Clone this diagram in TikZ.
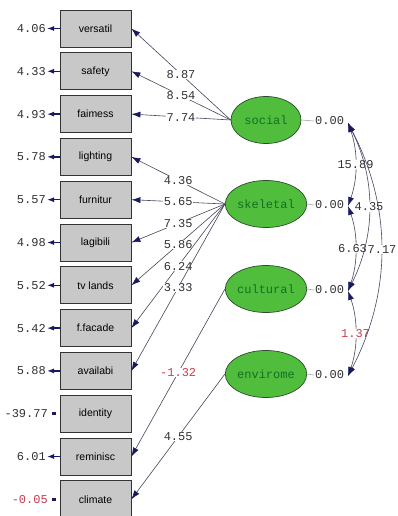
\documentclass[tikz,border=0pt]{standalone}
\usepackage{fontspec}
\setmainfont{Liberation Sans}
\newfontfamily\monof{Liberation Mono}
\usetikzlibrary{arrows.meta,shapes.geometric,calc}
\definecolor{boxgray}{RGB}{200,200,200}
\definecolor{navyc}{RGB}{25,25,95}
\definecolor{linec}{RGB}{70,70,95}
\definecolor{numc}{RGB}{50,50,50}
\definecolor{redn}{RGB}{200,60,80}
\definecolor{ellfill}{RGB}{80,190,60}
\definecolor{elltext}{RGB}{20,110,40}
\definecolor{ellborder}{RGB}{45,75,45}
\begin{document}
\begin{tikzpicture}[x=1pt,y=-1pt,
  obs/.style={draw=black!80, fill=boxgray, minimum width=71pt, minimum height=37pt, inner sep=0pt, line width=0.8pt, font=\fontsize{10.5}{12}\selectfont},
  lat/.style={ellipse, draw=ellborder, fill=ellfill, minimum width=70pt, minimum height=47pt, inner sep=0pt, line width=0.7pt, font=\monof\fontsize{12}{13}\selectfont, text=elltext},
  num/.style={font=\monof\fontsize{12}{13}\selectfont, text=numc, inner sep=1pt},
  lab/.style={num, fill=white, inner sep=0.6pt},
  load/.style={draw=linec, line width=0.6pt, -{Latex[length=9pt,width=6pt,color=navyc]}},
  err/.style={draw=navyc, line width=1.3pt, -{Latex[length=7pt,width=5pt]}},
  stub/.style={draw=navyc, line width=2.8pt},
  varl/.style={draw=gray!70, line width=0.6pt},
  cov/.style={draw=linec, line width=0.6pt, {Latex[length=9pt,width=6pt,color=navyc]}-{Latex[length=9pt,width=6pt,color=navyc]}}
]
\clip (0,0) rectangle (398,516);
\fill[white] (0,0) rectangle (398,516);

% observed variables
\node[obs] (b1)  at (95.5,28.5)  {versatil};
\node[obs] (b2)  at (95.5,71.3)  {safety};
\node[obs] (b3)  at (95.5,114.1) {faimess};
\node[obs] (b4)  at (95.5,156.9) {lighting};
\node[obs] (b5)  at (95.5,199.7) {furnitur};
\node[obs] (b6)  at (95.5,242.5) {lagibili};
\node[obs] (b7)  at (95.5,285.3) {tv lands};
\node[obs] (b8)  at (95.5,328.1) {f.facade};
\node[obs] (b9)  at (95.5,370.9) {availabi};
\node[obs] (b10) at (95.5,413.7) {identity};
\node[obs] (b11) at (95.5,456.5) {reminisc};
\node[obs] (b12) at (95.5,499.3) {climate};

% error variances
\node[num, anchor=east] (e1)  at (47,28.5)  {4.06};
\node[num, anchor=east] (e2)  at (47,71.3)  {4.33};
\node[num, anchor=east] (e3)  at (47,114.1) {4.93};
\node[num, anchor=east] (e4)  at (47,156.9) {5.78};
\node[num, anchor=east] (e5)  at (47,199.7) {5.57};
\node[num, anchor=east] (e6)  at (47,242.5) {4.98};
\node[num, anchor=east] (e7)  at (47,285.3) {5.52};
\node[num, anchor=east] (e8)  at (47,328.1) {5.42};
\node[num, anchor=east] (e9)  at (47,370.9) {5.88};
\node[num, anchor=east] (e10) at (49,413.7) {-39.77};
\node[num, anchor=east] (e11) at (47,456.5) {6.01};
\node[num, anchor=east, text=redn] (e12) at (49,499.3) {-0.05};
\foreach \i in {1,...,9,11} {\draw[err] (b\i.west) -- (e\i.east);}
\draw[stub] ($(e10.east)+(3,0)$) -- ($(e10.east)+(7,0)$);
\draw[stub] ($(e12.east)+(3,0)$) -- ($(e12.east)+(7,0)$);

% latent variables
\node[lat] (soc) at (266,120) {social};
\node[lat] (ske) at (266,204) {skeletal};
\node[lat] (cul) at (266,289) {cultural};
\node[lat] (env) at (266,374) {envirome};

% variances of latents
\node[num, anchor=west] (v1) at (314,121) {0.00};
\node[num, anchor=west] (v2) at (314,205) {0.00};
\node[num, anchor=west] (v3) at (314,290) {0.00};
\node[num, anchor=west] (v4) at (314,375) {0.00};
\foreach \l/\v in {soc/v1,ske/v2,cul/v3,env/v4} {\draw[varl] (\l.east) -- (\v.west);}

% loadings
\draw[load] (soc.west) -- node[lab] {8.87} (b1.east);
\draw[load] (soc.west) -- node[lab] {8.54} (b2.east);
\draw[load] (soc.west) -- node[lab] {7.74} (b3.east);
\draw[load] (ske.west) -- node[lab] {4.36} (b4.east);
\draw[load] (ske.west) -- node[lab] {5.65} (b5.east);
\draw[load] (ske.west) -- node[lab] {7.35} (b6.east);
\draw[load] (ske.west) -- node[lab] {5.86} (b7.east);
\draw[load] (ske.west) -- node[lab] {6.24} (b8.east);
\draw[load] (ske.west) -- node[lab] {3.33} (b9.east);
\draw[load] (cul.west) -- node[lab, text=redn] {-1.32} (b11.east);
\draw[load] (env.west) -- node[lab] {4.55} (b12.east);

% covariances
\coordinate (c1) at (348,123);
\coordinate (c2) at (348,206);
\coordinate (c3) at (348,291);
\coordinate (c4) at (348,376);
\draw[cov] (c1) .. controls +(10,28) and +(10,-28) .. node[lab] {15.89} (c2);
\draw[cov] (c2) .. controls +(10,28) and +(10,-28) .. node[lab, xshift=-3pt] {6.63} (c3);
\draw[cov] (c3) .. controls +(10,28) and +(10,-28) .. node[lab, text=redn] {1.37} (c4);
\draw[cov] (c1) .. controls +(28,56) and +(28,-56) .. node[lab] {4.35} (c3);
\draw[cov] (c1) .. controls +(44,84) and +(44,-84) .. node[lab, xshift=1pt] {7.17} (c4);
\end{tikzpicture}
\end{document}
